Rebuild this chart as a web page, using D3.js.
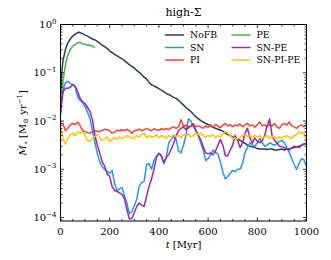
<!DOCTYPE html>
<html><head><meta charset="utf-8">
<script src="https://cdn.jsdelivr.net/npm/d3@7"></script>
<style>
body{margin:0;background:#fff}
svg{display:block}
text{font-family:"DejaVu Serif",serif;fill:#000}
</style>
</head><body><svg id="c" width="331" height="260"></svg>
<script>
// ---- data (t in Myr, star formation rate in Msun/yr) ----
const title = "high-Σ";
const xTicks = [0, 200, 400, 600, 800, 1000];
const yTickExps = [0, -1, -2, -3, -4];

const times = [0,10,20,30,40,50,60,70,80,90,100,110,120,130,140,150,160,170,180,190,200,
210,220,230,240,250,260,270,280,290,300,310,320,330,340,350,360,370,380,390,400,
410,420,430,440,450,460,470,480,490,500,510,520,530,540,550,560,570,580,590,600,
610,620,630,640,650,660,670,680,690,700,710,720,730,740,750,760,770,780,790,800,
810,820,830,840,850,860,870,880,890,900,910,920,930,940,950,960,970,980,990,1000];

const nofbTimes = [0,5,10,20,30,40,50,60,70,75,80,90,100,110,120,130,140,150,160,170,180,190,200,
210,220,230,240,250,260,270,280,290,300,310,320,330,340,350,360,370,380,390,400,
410,420,430,440,450,460,470,480,490,500,510,520,530,540,550,560,570,580,590,600,
610,620,630,640,650,660,670,680,690,700,710,720,730,740,750,760,770,780,790,800,
810,820,830,840,850,860,870,880,890,900,910,920,930,940,950,960,970,980,990,1000];
const nofb = [2.51e-2,0.1,0.178,0.302,0.417,0.501,0.575,0.631,0.676,0.692,0.676,0.646,0.603,0.575,0.537,0.501,0.479,0.447,0.407,0.372,0.347,0.316,0.282,
0.263,0.240,0.224,0.209,0.195,0.178,0.162,0.148,0.135,0.126,0.112,0.102,0.0912,0.0813,0.0741,0.0631,0.0562,0.0537,0.0501,0.0468,
0.0437,0.0407,0.0372,0.0355,0.0331,0.0309,0.0295,0.0269,0.0240,0.0214,0.0191,0.0174,0.0158,0.0138,0.0123,0.0112,0.0102,9.55e-3,8.91e-3,8.51e-3,
7.94e-3,7.41e-3,7.08e-3,6.76e-3,6.46e-3,6.17e-3,5.62e-3,5.25e-3,5.01e-3,4.68e-3,4.47e-3,4.27e-3,3.98e-3,3.72e-3,3.47e-3,3.16e-3,3.02e-3,2.95e-3,2.82e-3,2.69e-3,
2.63e-3,2.63e-3,2.63e-3,2.57e-3,2.63e-3,2.63e-3,2.51e-3,2.51e-3,2.57e-3,2.63e-3,2.51e-3,2.63e-3,2.63e-3,2.75e-3,2.82e-3,2.95e-3,3.02e-3,3.16e-3,3.31e-3,3.39e-3];

const peTimes = [0,5,10,15,20,25,30,40,50,60,70,80,85,90,100,110,115,120,125,130,138];
const pe = [1.41e-2,3.55e-2,6.31e-2,0.1,0.141,0.191,0.234,0.302,0.355,0.389,0.417,0.427,0.417,0.398,0.389,0.372,0.380,0.363,0.372,0.355,0.339];

const sn = [1.58e-2,4.47e-2,6.31e-2,6.61e-2,6.03e-2,5.62e-2,5.01e-2,3.16e-2,2.63e-2,2.40e-2,2.00e-2,1.51e-2,1.12e-2,6.31e-3,3.55e-3,2.09e-3,1.41e-3,1.12e-3,1.00e-3,8.91e-4,8.32e-4,
9.55e-4,5.01e-4,3.55e-4,3.98e-4,4.17e-4,2.82e-4,2.00e-4,1.20e-4,1.32e-4,1.78e-4,2.40e-4,4.47e-4,5.37e-4,5.62e-4,1.26e-3,1.32e-3,1.00e-3,1.51e-3,1.91e-3,2.14e-3,
1.91e-3,1.32e-3,1.74e-3,3.55e-3,4.17e-3,4.79e-3,4.17e-3,2.40e-3,2.19e-3,3.16e-3,5.01e-3,1.12e-2,1.00e-2,7.59e-3,6.61e-3,5.01e-3,3.55e-3,2.51e-3,1.51e-3,1.66e-3,
2.00e-3,2.51e-3,2.24e-3,2.09e-3,1.41e-3,8.91e-4,6.31e-4,7.08e-4,8.32e-4,9.55e-4,8.91e-4,1.00e-3,1.00e-3,1.32e-3,2.24e-3,2.82e-3,3.55e-3,3.16e-3,2.95e-3,3.55e-3,
4.37e-3,3.55e-3,3.02e-3,3.16e-3,3.55e-3,3.31e-3,3.16e-3,3.39e-3,3.80e-3,3.98e-3,3.55e-3,2.82e-3,2.24e-3,1.66e-3,1.26e-3,1.00e-3,1.32e-3,1.66e-3,1.58e-3,1.12e-3];

const snpe = [1.41e-2,3.98e-2,4.79e-2,4.79e-2,5.01e-2,5.75e-2,5.25e-2,3.98e-2,2.95e-2,2.51e-2,2.29e-2,1.91e-2,1.58e-2,1.05e-2,5.01e-3,3.16e-3,2.14e-3,1.41e-3,1.15e-3,7.94e-4,7.08e-4,
4.37e-4,3.63e-4,3.47e-4,3.24e-4,3.02e-4,2.51e-4,1.45e-4,9.33e-5,9.55e-5,1.26e-4,1.70e-4,2.00e-4,1.82e-4,1.70e-4,2.75e-4,4.47e-4,6.31e-4,1.00e-3,1.74e-3,2.14e-3,
1.91e-3,1.35e-3,1.78e-3,2.00e-3,2.63e-3,3.47e-3,5.01e-3,6.31e-3,7.08e-3,7.59e-3,6.61e-3,7.59e-3,7.94e-3,8.32e-3,6.31e-3,5.01e-3,4.17e-3,2.95e-3,2.19e-3,2.09e-3,
2.19e-3,2.00e-3,2.40e-3,3.16e-3,4.17e-3,3.16e-3,1.91e-3,1.91e-3,2.51e-3,3.16e-3,5.01e-3,3.98e-3,2.82e-3,3.55e-3,5.62e-3,7.08e-3,4.47e-3,3.47e-3,4.47e-3,3.80e-3,
3.55e-3,3.98e-3,5.01e-3,7.94e-3,1.10e-2,5.01e-3,3.98e-3,3.55e-3,3.02e-3,2.95e-3,2.82e-3,2.63e-3,2.51e-3,2.75e-3,3.02e-3,2.95e-3,2.82e-3,3.16e-3,3.39e-3,3.47e-3];

const pi = [8.91e-3,8.91e-3,6.31e-3,7.08e-3,8.32e-3,8.91e-3,8.51e-3,9.55e-3,7.94e-3,6.31e-3,6.03e-3,5.75e-3,5.62e-3,6.03e-3,6.31e-3,6.17e-3,6.03e-3,6.46e-3,6.76e-3,6.61e-3,6.31e-3,
5.62e-3,5.89e-3,6.46e-3,6.31e-3,6.61e-3,6.31e-3,6.76e-3,6.31e-3,5.62e-3,6.31e-3,6.46e-3,6.76e-3,6.31e-3,6.61e-3,7.08e-3,6.61e-3,6.31e-3,6.92e-3,6.61e-3,6.46e-3,
6.92e-3,6.61e-3,7.08e-3,6.61e-3,7.24e-3,7.59e-3,7.08e-3,7.59e-3,1.07e-2,7.59e-3,8.32e-3,7.08e-3,7.94e-3,8.91e-3,7.59e-3,7.94e-3,7.59e-3,7.08e-3,7.94e-3,7.41e-3,
8.32e-3,7.59e-3,8.51e-3,7.94e-3,7.24e-3,8.32e-3,8.91e-3,7.94e-3,8.51e-3,7.59e-3,8.32e-3,7.94e-3,8.71e-3,7.59e-3,8.32e-3,8.91e-3,7.94e-3,8.32e-3,7.41e-3,8.51e-3,
9.55e-3,7.94e-3,8.32e-3,7.59e-3,8.51e-3,7.94e-3,8.91e-3,7.59e-3,7.08e-3,8.32e-3,8.91e-3,8.32e-3,9.55e-3,7.94e-3,7.59e-3,7.08e-3,7.94e-3,8.32e-3,7.59e-3,8.32e-3];

const snpipe = [7.08e-3,4.47e-3,3.31e-3,4.47e-3,5.25e-3,5.62e-3,5.01e-3,6.03e-3,5.62e-3,6.03e-3,5.01e-3,3.98e-3,3.80e-3,4.47e-3,4.79e-3,5.25e-3,4.47e-3,3.98e-3,4.17e-3,4.68e-3,3.80e-3,
4.17e-3,4.47e-3,4.27e-3,4.68e-3,4.37e-3,4.57e-3,5.01e-3,4.68e-3,4.37e-3,4.47e-3,5.01e-3,4.68e-3,5.25e-3,5.62e-3,4.47e-3,5.01e-3,4.68e-3,4.79e-3,5.25e-3,4.47e-3,
5.01e-3,4.79e-3,4.37e-3,5.01e-3,4.68e-3,5.25e-3,4.79e-3,5.01e-3,4.47e-3,5.25e-3,5.01e-3,5.50e-3,4.68e-3,5.01e-3,5.62e-3,5.25e-3,5.62e-3,5.01e-3,4.68e-3,5.01e-3,
4.79e-3,5.25e-3,4.47e-3,5.01e-3,4.68e-3,5.50e-3,6.03e-3,5.62e-3,5.01e-3,4.37e-3,4.47e-3,4.27e-3,4.57e-3,5.01e-3,5.25e-3,4.79e-3,5.01e-3,4.57e-3,5.01e-3,4.68e-3,
5.01e-3,4.47e-3,4.68e-3,5.01e-3,4.37e-3,4.79e-3,4.57e-3,4.37e-3,4.68e-3,4.47e-3,4.79e-3,5.01e-3,4.57e-3,4.37e-3,5.01e-3,5.25e-3,6.03e-3,5.62e-3,5.75e-3,3.55e-3];

const seriesNames = ["NoFB","SN","PI","PE","SN-PE","SN-PI-PE"];
const seriesColors = ["#2c3e50","#2196f3","#f44336","#4caf50","#9c27b0","#ffc107"];

// ---- layout ----
const svg = d3.select("#c");
const L = 60.5, R = 306.5, T = 24.5, B = 221;
const x = d3.scaleLinear().domain([0, 1000]).range([L, R]);
const y = d3.scaleLog().domain([8.5e-5, 1]).range([B, T]);

svg.append("defs").append("clipPath").attr("id","clip")
  .append("rect").attr("x",L).attr("y",T).attr("width",R-L).attr("height",B-T);

const seriesData = [
  {t: nofbTimes, v: nofb},
  {t: times, v: sn},
  {t: times, v: pi},
  {t: peTimes, v: pe},
  {t: times, v: snpe},
  {t: times, v: snpipe}
];

const line = d3.line().x(d => x(d[0])).y(d => y(d[1]));
const g = svg.append("g").attr("clip-path","url(#clip)");
seriesData.forEach((s, i) => {
  g.append("path")
    .attr("d", line(s.t.map((t, j) => [t, s.v[j]])))
    .attr("fill","none")
    .attr("stroke", seriesColors[i])
    .attr("stroke-width", 1.5)
    .attr("stroke-linejoin","round")
    .attr("stroke-linecap","round");
});

// ---- axes (inward ticks on all sides) ----
const axG = svg.append("g").attr("stroke","#000").attr("stroke-width",0.8);
const xMinor = d3.range(0, 1001, 50);
xMinor.forEach(v => {
  const major = xTicks.includes(v);
  const len = major ? 3.5 : 2;
  axG.append("line").attr("x1",x(v)).attr("x2",x(v)).attr("y1",B).attr("y2",B-len);
  axG.append("line").attr("x1",x(v)).attr("x2",x(v)).attr("y1",T).attr("y2",T+len);
});
const yMinor = [];
for (let e = -5; e < 0; e++) for (let m = 2; m <= 9; m++) {
  const v = m * Math.pow(10, e);
  if (v >= 8.5e-5 && v <= 1) yMinor.push(v);
}
yMinor.forEach(v => {
  axG.append("line").attr("x1",L).attr("x2",L+2).attr("y1",y(v)).attr("y2",y(v));
  axG.append("line").attr("x1",R).attr("x2",R-2).attr("y1",y(v)).attr("y2",y(v));
});
yTickExps.forEach(e => {
  const v = Math.pow(10, e);
  axG.append("line").attr("x1",L).attr("x2",L+3.5).attr("y1",y(v)).attr("y2",y(v));
  axG.append("line").attr("x1",R).attr("x2",R-3.5).attr("y1",y(v)).attr("y2",y(v));
});
svg.append("rect").attr("x",L).attr("y",T).attr("width",R-L).attr("height",B-T)
  .attr("fill","none").attr("stroke","#000").attr("stroke-width",1);

// tick labels
xTicks.forEach(v => {
  svg.append("text").attr("x",x(v)).attr("y",B+13.5)
    .attr("text-anchor","middle").attr("font-size",10).text(v);
});
yTickExps.forEach(e => {
  const t = svg.append("text").attr("x",L-4).attr("y",y(Math.pow(10,e))+3.5)
    .attr("text-anchor","end").attr("font-size",10);
  t.append("tspan").text("10");
  t.append("tspan").attr("dy",-4.5).attr("font-size",7).text(e === 0 ? "0" : "−" + (-e));
});

// title
svg.append("text").attr("x",(L+R)/2).attr("y",16).attr("text-anchor","middle")
  .attr("font-size",11).text(title);

// x label
const xl = svg.append("text").attr("x",(L+R)/2).attr("y",248).attr("text-anchor","middle").attr("font-size",10);
xl.append("tspan").attr("font-style","italic").text("t");
xl.append("tspan").text(" [Myr]");

// y label
const yl = svg.append("text").attr("transform",`translate(26,${(T+B)/2}) rotate(-90)`)
  .attr("text-anchor","middle").attr("font-size",10);
yl.append("tspan").attr("font-style","italic").text("Ṁ");
yl.append("tspan").attr("font-size",7).attr("dy",2).text("⋆");
yl.append("tspan").attr("dy",-2).text(" [M");
yl.append("tspan").attr("font-size",7).attr("dy",2).text("⊙");
yl.append("tspan").attr("dy",-2).text(" yr");
yl.append("tspan").attr("font-size",7).attr("dy",-4).text("−1");
yl.append("tspan").attr("dy",4).text("]");

// legend
const legX = [165, 231.5], legY0 = 35, legDy = 12.5;
seriesNames.forEach((n, i) => {
  const col = Math.floor(i / 3), row = i % 3;
  const lx = legX[col], ly = legY0 + row * legDy;
  svg.append("line").attr("x1",lx).attr("x2",lx+19).attr("y1",ly).attr("y2",ly)
    .attr("stroke",seriesColors[i]).attr("stroke-width",1.5);
  svg.append("text").attr("x",lx+25).attr("y",ly+3.3).attr("font-size",9.3).text(n);
});
</script>
</body></html>
